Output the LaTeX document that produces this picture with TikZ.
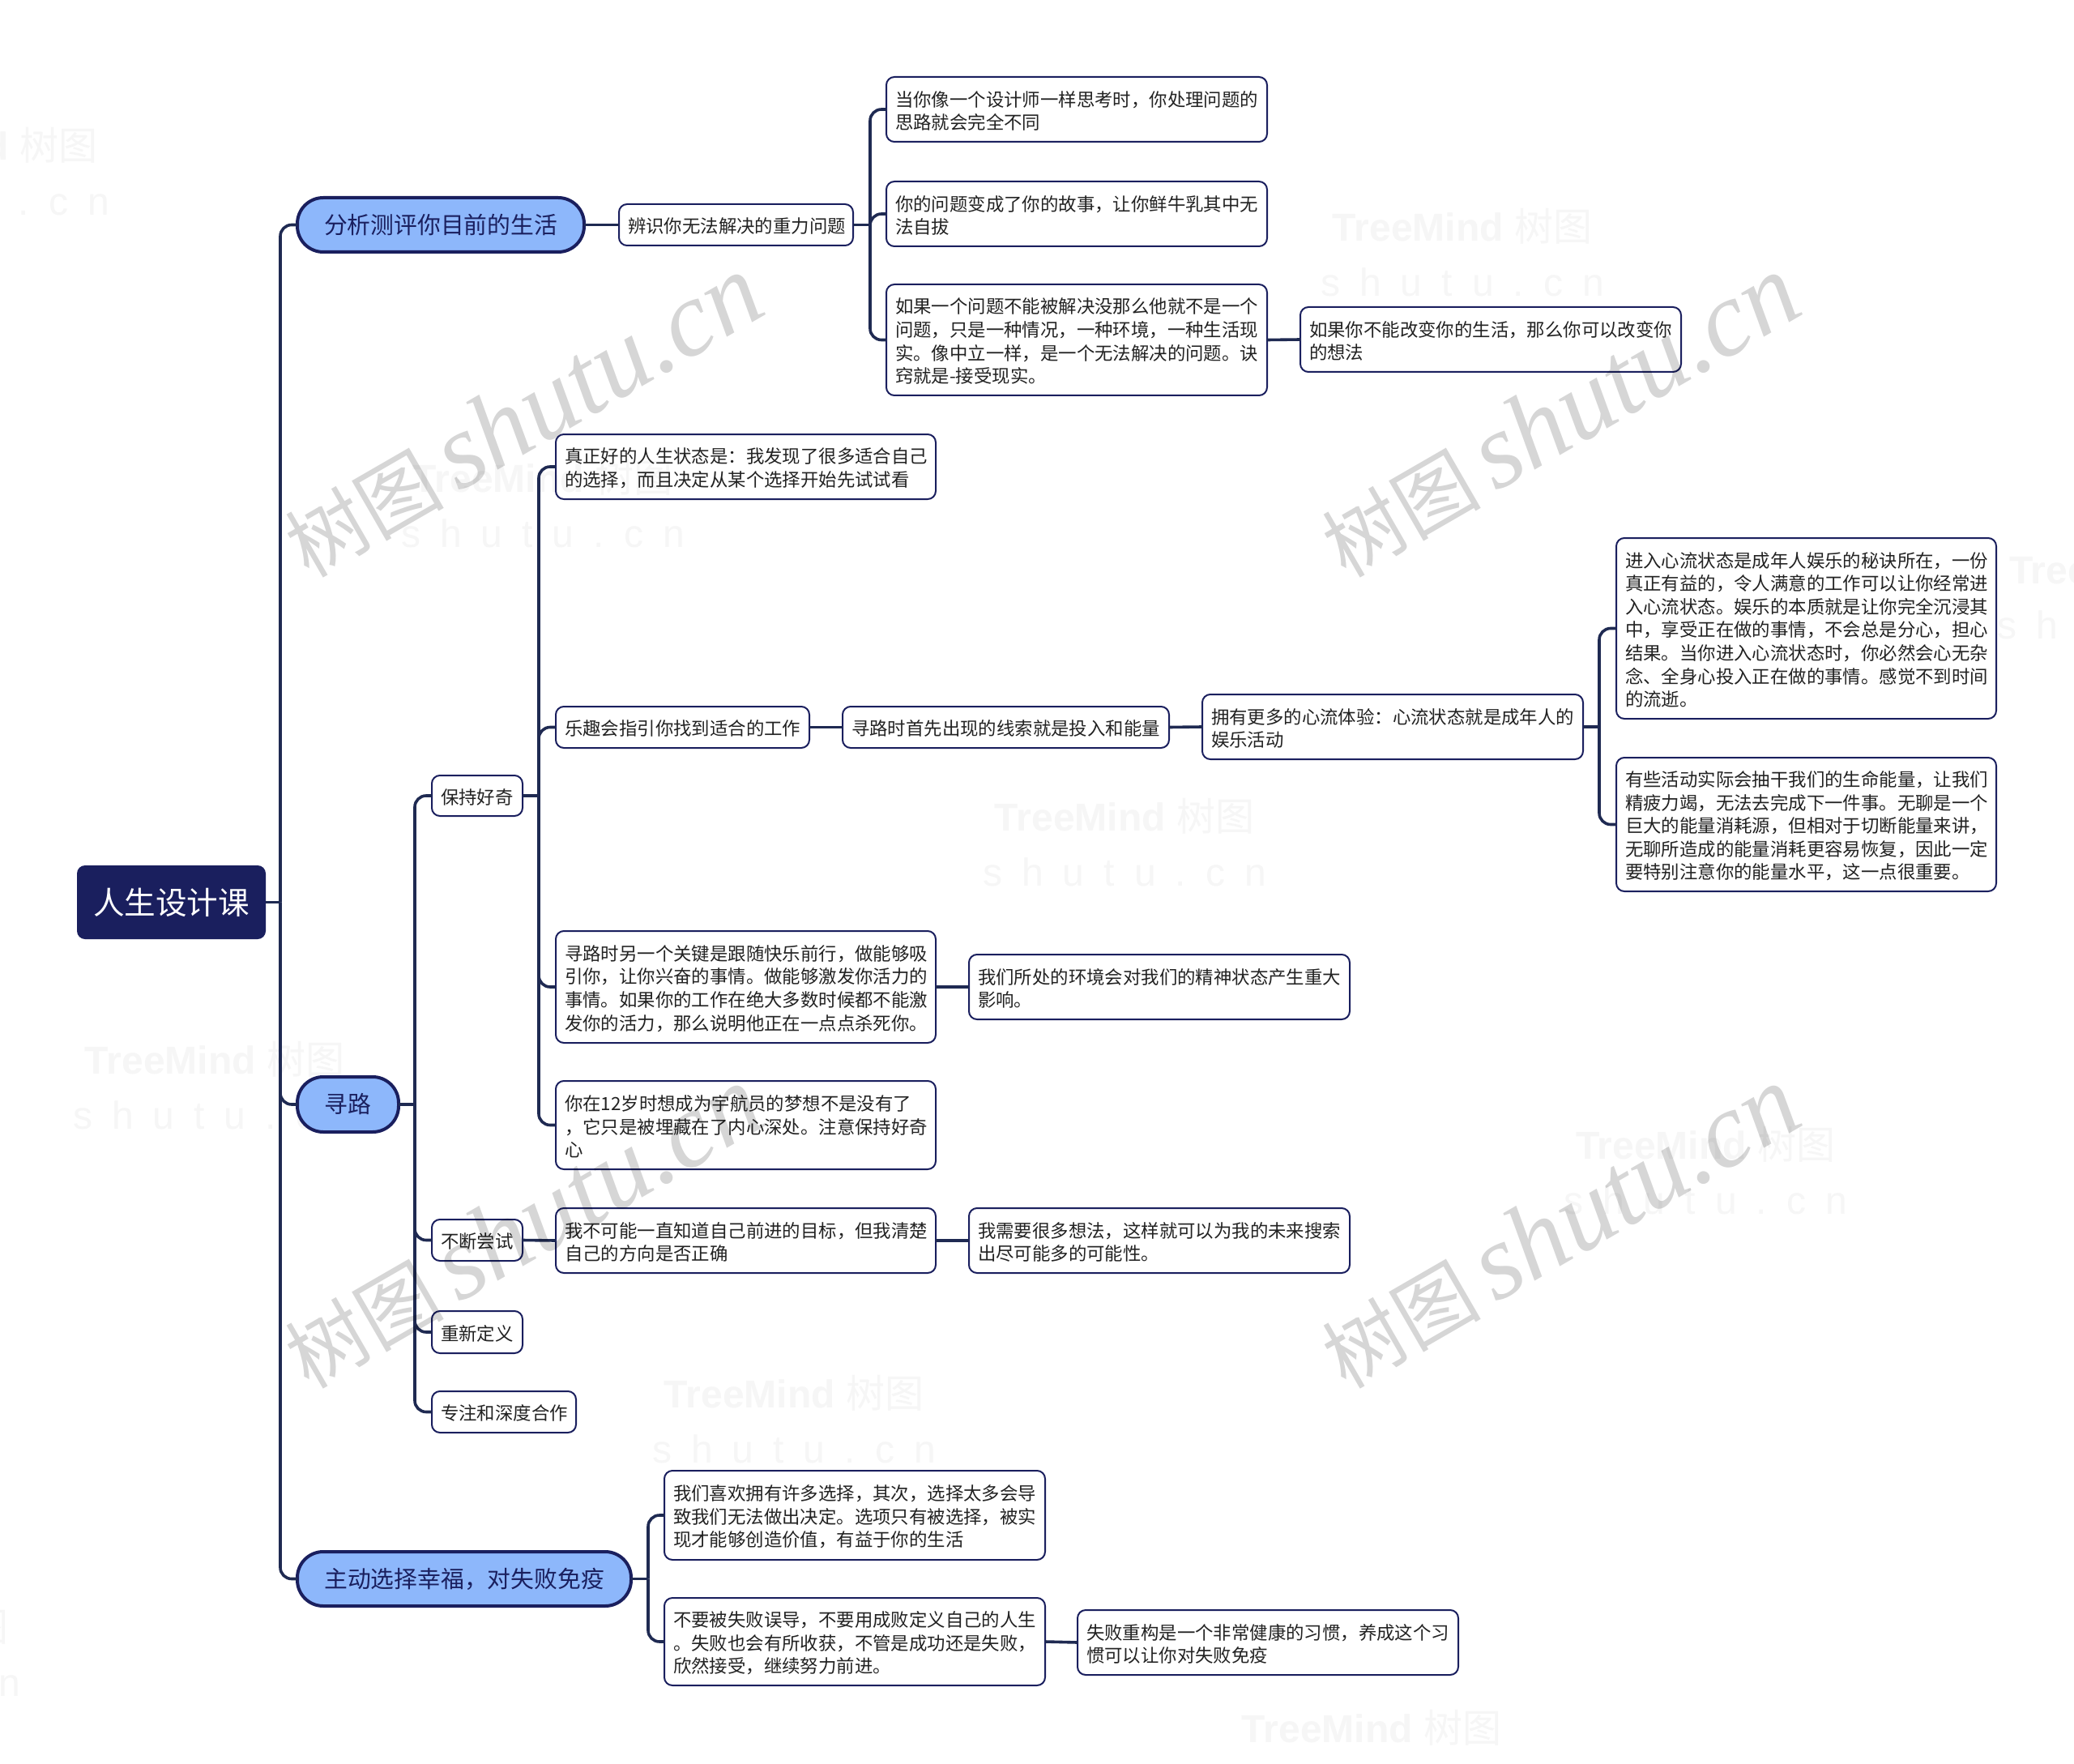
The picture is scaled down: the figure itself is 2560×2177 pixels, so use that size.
\documentclass[tikz,border=0pt]{standalone}
\usepackage{fontspec}
\setmainfont{Noto Sans CJK SC}
\newfontfamily\wmlatin{Liberation Serif}
\newfontfamily\wmsans{Liberation Sans}
\newfontfamily\cjkf{Noto Sans CJK SC}
\definecolor{navy}{HTML}{1A1F5E}
\definecolor{linkc}{HTML}{1F2A52}
\definecolor{bluefill}{HTML}{8DB7FB}
\definecolor{inkc}{HTML}{222222}
\definecolor{faintc}{HTML}{F6F6F6}
\tikzset{
  base/.style={inner sep=0pt,outer sep=0pt,align=left,text=inkc},
  leaf/.style={base,draw=navy,line width=1pt,rounded corners=5pt,font=\fontsize{11.2}{14.3}\selectfont},
  mainb/.style={base,draw=navy,fill=bluefill,line width=2pt,rounded corners=16pt,align=center,text=navy,font=\fontsize{14.4}{18}\selectfont},
  rootb/.style={base,fill=navy,rounded corners=5pt,align=center,text=white,font=\fontsize{19.3}{24}\selectfont},
  link/.style={draw=linkc,line width=1.8pt,rounded corners=7pt},
  stub/.style={draw=linkc,line width=1.8pt},
  wmbig/.style={text=black,opacity=.16,rotate=30},
  wmfaint/.style={text=faintc,align=center,font=\wmsans\bfseries\fontsize{24}{36}\selectfont}
}
% name, style, x1, y1, x2, y2, text (pixel box)
\newcommand{\bx}[7]{%
  \pgfmathsetmacro{\cxx}{(#3+#5)/2}\pgfmathsetmacro{\cyy}{(#4+#6)/2}%
  \pgfmathsetmacro{\www}{(#5-#3)*0.5}\pgfmathsetmacro{\hhh}{(#6-#4)*0.5}%
  \node[#2,minimum width=\www pt,minimum height=\hhh pt] (#1) at (\cxx,\cyy) {#7};}
\newcommand{\leafb}[7][11]{%
  \pgfmathsetmacro{\cxx}{(#3+#5)/2}\pgfmathsetmacro{\cyy}{(#4+#6)/2}%
  \pgfmathsetmacro{\www}{(#5-#3)*0.5}\pgfmathsetmacro{\hhh}{(#6-#4)*0.5}%
  \pgfmathsetmacro{\ttt}{(#5-#3-2*#1)*0.5}%
  \node[leaf,minimum width=\www pt,minimum height=\hhh pt,text width=\ttt pt] (#2) at (\cxx,\cyy) {\rule{0pt}{11.3pt}#7};}
\newcommand{\kid}[3]{\draw[link] (#1.east -| #3) |- (#2.west);}
\newcommand{\straight}[2]{\draw[stub] (#1.east) -- (#2.west);}
\newcommand{\tm}[2]{\node[wmfaint] at (#1,#2) {TreeMind {\cjkf\mdseries 树图}\\[-2pt]{\mdseries s\,\,\,h\,\,\,u\,\,\,t\,\,\,u\,\,\,.\,\,\,c\,\,\,n}};}
\newcommand{\wm}[2]{\node[wmbig] at (#1,#2) {{\cjkf\fontsize{49}{49}\selectfont 树图}\hspace{9pt}{\wmlatin\itshape\fontsize{66}{66}\selectfont shutu.cn}};}
\begin{document}
\begin{tikzpicture}[x=0.5pt,y=-0.5pt]
\clip (0,0) rectangle (2560,2177);
\fill[white] (0,0) rectangle (2560,2177);
% faint marks
\tm{-40}{212}\tm{1805}{312}\tm{670}{622}\tm{1388}{1040}\tm{2640}{735}\tm{265}{1340}\tm{2105}{1445}\tm{980}{1752}\tm{1693}{2165}\tm{-150}{2040}
% bus coordinates
\coordinate (busA) at (346,0);
\coordinate (busB) at (1074,0);
\coordinate (busC) at (512,0);
\coordinate (busD) at (665,0);
\coordinate (busE) at (1974,0);
\coordinate (busF) at (800,0);
% nodes
\bx{root}{rootb}{95}{1068}{328}{1159}{人生设计课}
\bx{mA}{mainb}{367}{244}{721}{311}{分析测评你目前的生活}
\bx{mB}{mainb}{367}{1329}{492}{1397}{寻路}
\bx{mC}{mainb}{367}{1915}{779}{1982}{主动选择幸福，对失败免疫}
\leafb{gravity}{764}{252}{1053}{303}{辨识你无法解决的重力问题}
\leafb{a1}{1094}{95}{1564}{175}{当你像一个设计师一样思考时，你处理问题的\\思路就会完全不同}
\leafb{a2}{1094}{224}{1564}{304}{你的问题变成了你的故事，让你鲜牛乳其中无\\法自拔}
\leafb{a3}{1094}{351}{1564}{488}{如果一个问题不能被解决没那么他就不是一个\\问题，只是一种情况，一种环境，一种生活现\\实。像中立一样，是一个无法解决的问题。诀\\窍就是-接受现实。}
\leafb{a4}{1605}{379}{2075}{459}{如果你不能改变你的生活，那么你可以改变你\\的想法}
\leafb{curious}{533}{957}{645}{1007}{保持好奇}
\leafb{b1}{686}{536}{1155}{616}{真正好的人生状态是：我发现了很多适合自己\\的选择，而且决定从某个选择开始先试试看}
\leafb{b2}{686}{872}{999}{923}{乐趣会指引你找到适合的工作}
\leafb{b3}{1040}{872}{1443}{923}{寻路时首先出现的线索就是投入和能量}
\leafb{b4}{1484}{857}{1954}{937}{拥有更多的心流体验：心流状态就是成年人的\\娱乐活动}
\leafb{b5}{1995}{664}{2464}{887}{进入心流状态是成年人娱乐的秘诀所在，一份\\真正有益的，令人满意的工作可以让你经常进\\入心流状态。娱乐的本质就是让你完全沉浸其\\中，享受正在做的事情，不会总是分心，担心\\结果。当你进入心流状态时，你必然会心无杂\\念、全身心投入正在做的事情。感觉不到时间\\的流逝。}
\leafb{b6}{1995}{935}{2464}{1100}{有些活动实际会抽干我们的生命能量，让我们\\精疲力竭，无法去完成下一件事。无聊是一个\\巨大的能量消耗源，但相对于切断能量来讲，\\无聊所造成的能量消耗更容易恢复，因此一定\\要特别注意你的能量水平，这一点很重要。}
\leafb{b7}{686}{1149}{1155}{1287}{寻路时另一个关键是跟随快乐前行，做能够吸\\引你，让你兴奋的事情。做能够激发你活力的\\事情。如果你的工作在绝大多数时候都不能激\\发你的活力，那么说明他正在一点点杀死你。}
\leafb{b8}{1196}{1178}{1666}{1258}{我们所处的环境会对我们的精神状态产生重大\\影响。}
\leafb{b9}{686}{1334}{1155}{1443}{你在12岁时想成为宇航员的梦想不是没有了\\，它只是被埋藏在了内心深处。注意保持好奇\\心}
\leafb{try}{533}{1505}{645}{1556}{不断尝试}
\leafb{c1}{686}{1491}{1155}{1571}{我不可能一直知道自己前进的目标，但我清楚\\自己的方向是否正确}
\leafb{c2}{1196}{1491}{1666}{1571}{我需要很多想法，这样就可以为我的未来搜索\\出尽可能多的可能性。}
\leafb{redef}{533}{1618}{645}{1670}{重新定义}
\leafb{deep}{533}{1717}{711}{1768}{专注和深度合作}
\leafb{d1}{820}{1815}{1290}{1925}{我们喜欢拥有许多选择，其次，选择太多会导\\致我们无法做出决定。选项只有被选择，被实\\现才能够创造价值，有益于你的生活}
\leafb{d2}{820}{1972}{1290}{2080}{不要被失败误导，不要用成败定义自己的人生\\。失败也会有所收获，不管是成功还是失败，\\欣然接受，继续努力前进。}
\leafb{d3}{1330}{1987}{1800}{2067}{失败重构是一个非常健康的习惯，养成这个习\\惯可以让你对失败免疫}
% connectors
\draw[stub] (root.east) -- (root.east -| busA);
\kid{root}{mA}{busA}\kid{root}{mB}{busA}\kid{root}{mC}{busA}
\straight{mA}{gravity}
\draw[stub] (gravity.east) -- (gravity.east -| busB);
\kid{gravity}{a1}{busB}\kid{gravity}{a2}{busB}\kid{gravity}{a3}{busB}
\straight{a3}{a4}
\draw[stub] (mB.east) -- (mB.east -| busC);
\kid{mB}{curious}{busC}\kid{mB}{try}{busC}\kid{mB}{redef}{busC}\kid{mB}{deep}{busC}
\draw[stub] (curious.east) -- (curious.east -| busD);
\kid{curious}{b1}{busD}\kid{curious}{b2}{busD}\kid{curious}{b7}{busD}\kid{curious}{b9}{busD}
\straight{b2}{b3}\straight{b3}{b4}
\draw[stub] (b4.east) -- (b4.east -| busE);
\kid{b4}{b5}{busE}\kid{b4}{b6}{busE}
\straight{b7}{b8}
\straight{try}{c1}\straight{c1}{c2}
\draw[stub] (mC.east) -- (mC.east -| busF);
\kid{mC}{d1}{busF}\kid{mC}{d2}{busF}
\straight{d2}{d3}
% large marks
\wm{645}{514}\wm{1925}{514}\wm{645}{1515}\wm{1925}{1515}
\end{tikzpicture}
\end{document}
